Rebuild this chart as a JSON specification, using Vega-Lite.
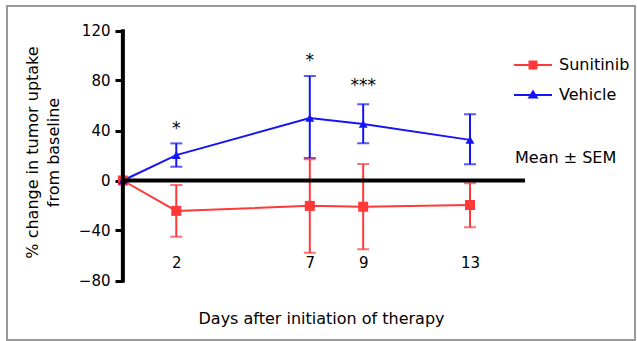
{
  "$schema": "https://vega.github.io/schema/vega-lite/v6.json",
  "width": 628,
  "height": 334,
  "autosize": {"type": "none"},
  "padding": {"left": 7, "top": 6, "right": 2, "bottom": 1},
  "background": "white",
  "config": {
    "font": "DejaVu Sans",
    "view": {"stroke": "#9a9a9a", "strokeWidth": 2},
    "axis": {"grid": false, "labelColor": "black", "titleColor": "black", "titleFontWeight": "normal"}
  },
  "resolve": {"legend": {"color": "independent", "shape": "independent"}},
  "datasets": {
    "series": [
      {"day": 0, "series": "Sunitinib", "mean": 0, "lower": null, "upper": null},
      {"day": 2, "series": "Sunitinib", "mean": -24.3, "lower": -45, "upper": -3.6},
      {"day": 7, "series": "Sunitinib", "mean": -20.3, "lower": -57.8, "upper": 17},
      {"day": 9, "series": "Sunitinib", "mean": -21, "lower": -55, "upper": 13.2},
      {"day": 13, "series": "Sunitinib", "mean": -19.6, "lower": -37.4, "upper": -2.2},
      {"day": 0, "series": "Vehicle", "mean": 0, "lower": null, "upper": null},
      {"day": 2, "series": "Vehicle", "mean": 20.3, "lower": 11, "upper": 29.7},
      {"day": 7, "series": "Vehicle", "mean": 50, "lower": 18, "upper": 83.6},
      {"day": 9, "series": "Vehicle", "mean": 45.2, "lower": 29.8, "upper": 61},
      {"day": 13, "series": "Vehicle", "mean": 32.5, "lower": 13, "upper": 53}
    ],
    "stars": [
      {"day": 2, "pos": 37, "label": "*"},
      {"day": 7, "pos": 91.6, "label": "*"},
      {"day": 9, "pos": 71.8, "label": "***"}
    ],
    "lines": [
      {"x0": 0, "x1": 15.06, "y0": 0, "y1": 0},
      {"x0": 0, "x1": 0, "y0": -81.5, "y1": 121}
    ]
  },
  "layer": [
    {
      "data": {"name": "series"},
      "mark": {"type": "line", "strokeWidth": 2},
      "encoding": {
        "x": {
          "field": "day", "type": "quantitative",
          "scale": {"domain": [-4.34, 19.18], "nice": false, "zero": false},
          "axis": {
            "orient": "bottom", "offset": -85, "values": [2, 7, 9, 13],
            "domain": false, "ticks": false, "labelPadding": 0, "labelFontSize": 15,
            "title": "Days after initiation of therapy", "titleFontSize": 16, "titlePadding": 40
          }
        },
        "y": {
          "field": "mean", "type": "quantitative",
          "scale": {"domain": [-127.6, 139.6], "nice": false, "zero": false},
          "axis": {
            "orient": "left", "offset": -116, "values": [-80, -40, 0, 40, 80, 120],
            "domain": false, "tickSize": 8, "tickWidth": 3, "tickColor": "black",
            "labelPadding": 5, "labelFontSize": 15,
            "title": ["% change in tumor uptake", "from baseline"],
            "titleFontSize": 16, "titleLineHeight": 21, "titlePadding": 17, "titleY": 146
          }
        },
        "color": {
          "field": "series", "type": "nominal",
          "scale": {"domain": ["Sunitinib", "Vehicle"], "range": ["#ff3838", "#1414f5"]},
          "legend": null
        }
      }
    },
    {
      "data": {"name": "series"},
      "mark": {"type": "rule", "strokeWidth": 2},
      "encoding": {
        "x": {"field": "day", "type": "quantitative"},
        "y": {"field": "lower", "type": "quantitative"},
        "y2": {"field": "upper"},
        "color": {"field": "series", "type": "nominal", "legend": null}
      }
    },
    {
      "data": {"name": "series"},
      "mark": {"type": "tick", "orient": "horizontal", "size": 12, "thickness": 2},
      "encoding": {
        "x": {"field": "day", "type": "quantitative"},
        "y": {"field": "lower", "type": "quantitative"},
        "color": {"field": "series", "type": "nominal", "legend": null}
      }
    },
    {
      "data": {"name": "series"},
      "mark": {"type": "tick", "orient": "horizontal", "size": 12, "thickness": 2},
      "encoding": {
        "x": {"field": "day", "type": "quantitative"},
        "y": {"field": "upper", "type": "quantitative"},
        "color": {"field": "series", "type": "nominal", "legend": null}
      }
    },
    {
      "data": {"name": "series"},
      "transform": [{"filter": {"field": "series", "equal": "Sunitinib"}}],
      "mark": {"type": "point", "shape": "square", "filled": true, "size": 100, "opacity": 1},
      "encoding": {
        "x": {"field": "day", "type": "quantitative"},
        "y": {"field": "mean", "type": "quantitative"},
        "color": {"field": "series", "type": "nominal", "legend": null}
      }
    },
    {
      "data": {"name": "series"},
      "transform": [{"filter": {"field": "series", "equal": "Vehicle"}}],
      "mark": {"type": "point", "shape": "triangle-up", "filled": true, "size": 80, "opacity": 1},
      "encoding": {
        "x": {"field": "day", "type": "quantitative"},
        "y": {"field": "mean", "type": "quantitative"},
        "color": {"field": "series", "type": "nominal", "legend": null}
      }
    },
    {
      "data": {"name": "series"},
      "mark": {"type": "point", "filled": true, "opacity": 0},
      "encoding": {
        "x": {"field": "day", "type": "quantitative"},
        "y": {"field": "mean", "type": "quantitative"},
        "color": {
          "field": "series", "type": "nominal",
          "legend": {
            "orient": "none", "direction": "vertical", "legendX": 508, "legendY": 49, "padding": 0,
            "symbolSize": 400, "symbolStrokeWidth": 0, "symbolOpacity": 1,
            "labelFontSize": 16, "labelColor": "black", "labelOffset": 24, "rowPadding": 12,
            "title": "Mean ± SEM", "titleOrient": "bottom", "titlePadding": 47,
            "titleFontSize": 16, "titleFontWeight": "normal", "titleColor": "black"
          }
        },
        "shape": {
          "field": "series", "type": "nominal",
          "scale": {
            "domain": ["Sunitinib", "Vehicle"],
            "range": [
              "M-1.1,-0.1H2.7V0.1H-1.1Z M0.35,-0.45H1.25V0.45H0.35Z",
              "M-1.1,-0.1H2.7V0.1H-1.1Z M0.8,-0.55L1.35,0.35H0.25Z"
            ]
          },
          "legend": {
            "orient": "none", "direction": "vertical", "legendX": 508, "legendY": 49, "padding": 0,
            "symbolSize": 400, "symbolStrokeWidth": 0, "symbolOpacity": 1,
            "labelFontSize": 16, "labelColor": "black", "labelOffset": 24, "rowPadding": 12,
            "title": "Mean ± SEM", "titleOrient": "bottom", "titlePadding": 47,
            "titleFontSize": 16, "titleFontWeight": "normal", "titleColor": "black"
          }
        }
      }
    },
    {
      "data": {"name": "stars"},
      "mark": {"type": "text", "fontSize": 17, "baseline": "alphabetic", "align": "center", "color": "black"},
      "encoding": {
        "x": {"field": "day", "type": "quantitative"},
        "y": {"field": "pos", "type": "quantitative"},
        "text": {"field": "label"}
      }
    },
    {
      "data": {"name": "lines"},
      "mark": {"type": "rule", "color": "black", "strokeWidth": 4},
      "encoding": {
        "x": {"field": "x0", "type": "quantitative"},
        "x2": {"field": "x1"},
        "y": {"field": "y0", "type": "quantitative"},
        "y2": {"field": "y1"}
      }
    }
  ]
}
